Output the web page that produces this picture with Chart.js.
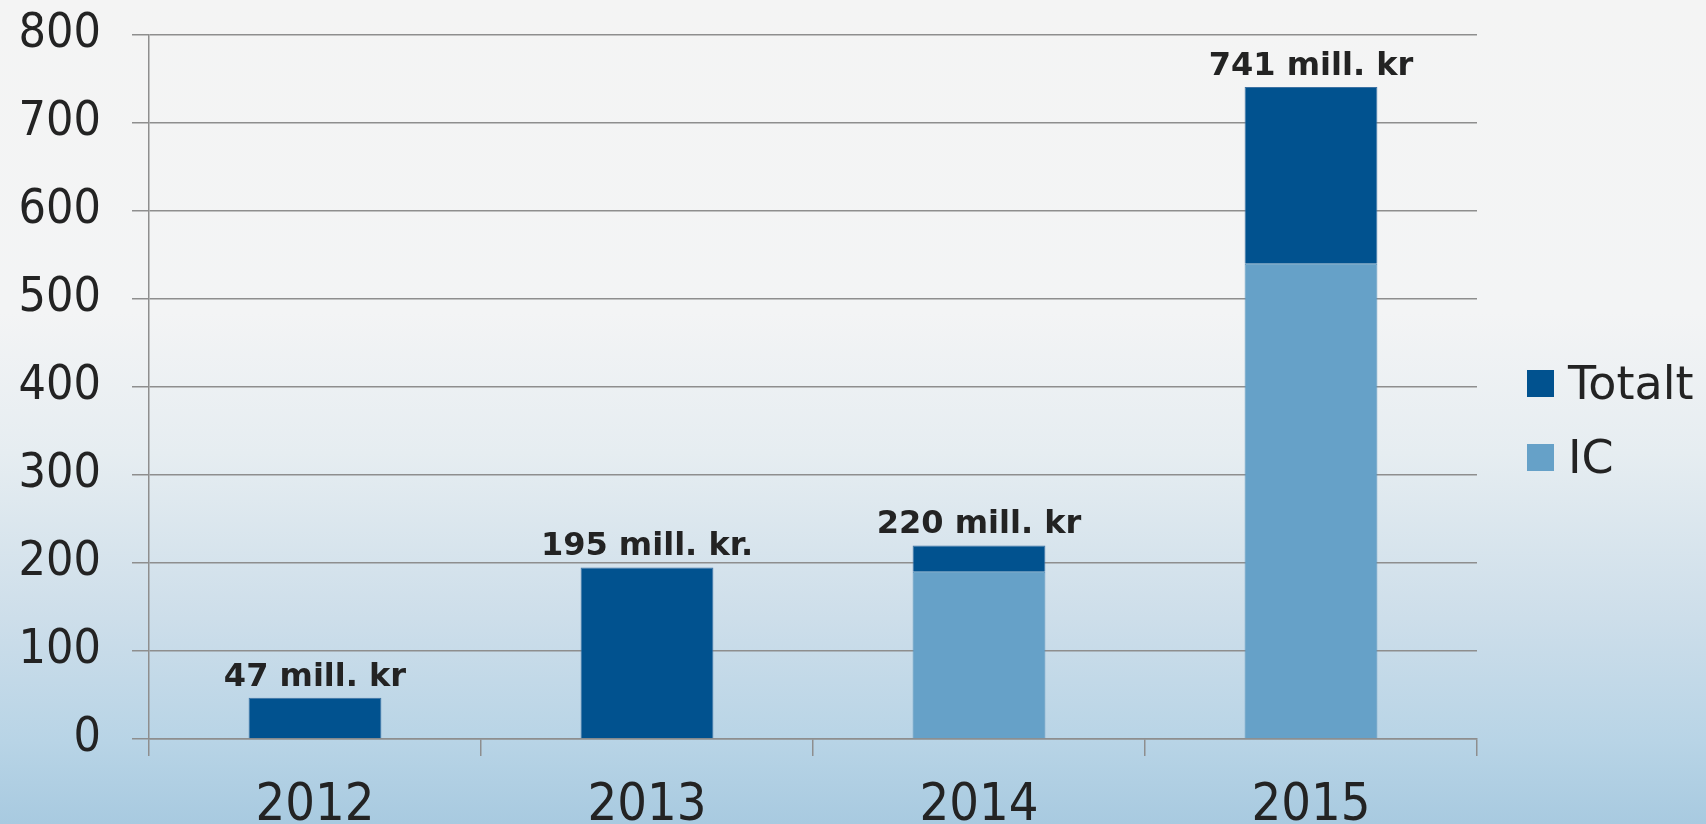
<!DOCTYPE html>
<html>
<head>
<meta charset="utf-8">
<script src="https://cdn.jsdelivr.net/npm/chart.js@4"></script>
<style>
  html, body { margin: 0; padding: 0; overflow: hidden; }
  body {
    width: 1706px; height: 824px;
    background: linear-gradient(to bottom, #f4f4f4 0%, #f3f4f5 38%, #e6edf1 55%, #cddeea 75%, #b8d4e6 90%, #a8cae0 100%);
  }
  #wrap { position: relative; width: 1706px; height: 870px; }
</style>
</head>
<body>
<div id="wrap"><canvas id="chart"></canvas></div>
<script>
  // Data
  const years = ['2012', '2013', '2014', '2015'];
  const icValues = [0, 0, 190, 540];
  const totaltValues = [47, 195, 30, 201];
  const barLabels = ['47 mill. kr', '195 mill. kr.', '220 mill. kr', '741 mill. kr'];
  const yTicks = [0, 100, 200, 300, 400, 500, 600, 700, 800];

  const darkBlue = '#01528f';
  const lightBlue = '#66a1c8';
  const gridGray = '#8e8e8e';

  // Labels above each stacked column
  const stackLabels = {
    id: 'stackLabels',
    afterDatasetsDraw(chart) {
      const ctx = chart.ctx;
      const top = chart.getDatasetMeta(1).data;
      ctx.save();
      ctx.font = 'bold 32px "DejaVu Sans"';
      ctx.fillStyle = '#232323';
      ctx.textAlign = 'center';
      ctx.textBaseline = 'alphabetic';
      top.forEach((bar, i) => {
        ctx.fillText(barLabels[i], bar.x, bar.y - 12);
      });
      ctx.restore();
    }
  };

  // Legend on the right, Totalt first
  const sideLegend = {
    id: 'sideLegend',
    afterDraw(chart) {
      const ctx = chart.ctx;
      const items = [chart.data.datasets[1], chart.data.datasets[0]];
      const x = chart.chartArea.right + 50;
      ctx.save();
      ctx.font = '46px "DejaVu Sans"';
      ctx.textBaseline = 'alphabetic';
      items.forEach((ds, i) => {
        const y = 370 + i * 74;
        ctx.fillStyle = ds.backgroundColor;
        ctx.fillRect(x, y, 27, 27);
        ctx.fillStyle = '#232323';
        ctx.fillText(ds.label, x + 41, y + 29);
      });
      ctx.restore();
    }
  };

  new Chart(document.getElementById('chart'), {
    type: 'bar',
    data: {
      labels: years,
      datasets: [{
        label: 'IC',
        data: icValues,
        backgroundColor: lightBlue,
        borderColor: '#5b95bd',
        borderWidth: 1,
        categoryPercentage: 1,
        barPercentage: 0.4
      }, {
        label: 'Totalt',
        data: totaltValues,
        backgroundColor: darkBlue,
        borderColor: '#3d72a3',
        borderWidth: 1,
        categoryPercentage: 1,
        barPercentage: 0.4
      }]
    },
    options: {
      responsive: true,
      maintainAspectRatio: false,
      animation: false,
      layout: {
        padding: { left: 13, top: 35, right: 229, bottom: 39 }
      },
      plugins: {
        legend: { display: false },
        tooltip: { enabled: false }
      },
      scales: {
        x: {
          stacked: true,
          afterFit(scale) { scale.height = 92; },
          grid: {
            drawOnChartArea: false,
            drawTicks: true,
            tickLength: 17,
            color: gridGray,
            lineWidth: 1.5
          },
          border: { color: gridGray, width: 1.5 },
          ticks: {
            padding: 19,
            color: '#232323',
            font: { family: '"DejaVu Sans Condensed", "DejaVu Sans"', size: 52 }
          }
        },
        y: {
          stacked: true,
          min: 0,
          max: 800,
          afterFit(scale) {
            scale.width = 136;
            scale.paddingTop = 0;
            scale.paddingBottom = 0;
          },
          afterBuildTicks(scale) { scale.ticks = yTicks.map(v => ({ value: v })); },
          grid: {
            color: gridGray,
            lineWidth: 1.5,
            tickLength: 17
          },
          border: { color: gridGray, width: 1.5 },
          ticks: {
            padding: 31,
            color: '#232323',
            font: { family: '"DejaVu Sans Condensed", "DejaVu Sans"', size: 48 }
          }
        }
      }
    },
    plugins: [stackLabels, sideLegend]
  });
</script>
</body>
</html>
